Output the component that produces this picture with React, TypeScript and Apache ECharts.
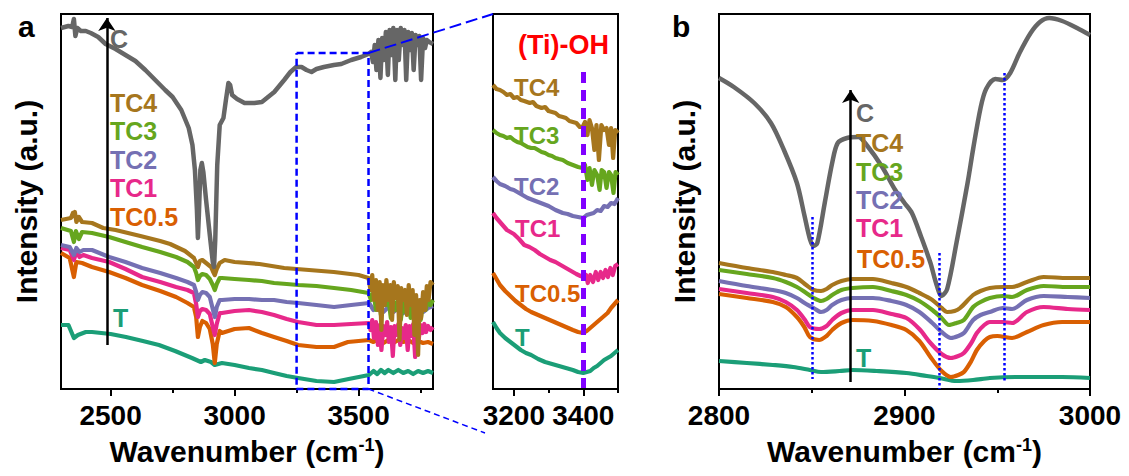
import React, { useEffect, useRef } from "react";
import * as echarts from "echarts";

const FONT = '"Liberation Sans", Arial, Helvetica, sans-serif';

const C_C = "#666666";
const C_TC4 = "#A6761D";
const C_TC3 = "#66A61E";
const C_TC2 = "#7570B3";
const C_TC1 = "#E7298A";
const C_TC05 = "#D95F02";
const C_T = "#1B9E77";

// ---------- axis ranges / ticks ----------
const A_RANGE = [2300, 3800];
const A_MAJOR = [2500, 3000, 3500];
const A_MINOR = [2750, 3250, 3750];
const I_RANGE = [3140, 3500];
const I_MAJOR = [3200, 3400];
const I_MINOR = [3300, 3500];
const B_RANGE = [2800, 3000];
const B_MAJOR = [2800, 2900, 3000];
const B_MINOR = [2850, 2950];
const Y_RANGE = [0, 375];

// ---------- panel a data (wavenumber, intensity a.u.) ----------
const aC = [[2300,361],[2330,363],[2345,362],[2352,370],[2358,353],[2366,361],[2380,358],[2400,358],[2420,356],[2450,352],[2480,345],[2520,340],[2560,334],[2600,328],[2640,319],[2680,309],[2720,299],[2750,292],[2785,279],[2815,261],[2830,244],[2840,219],[2848,179],[2852,151],[2856,174],[2862,219],[2868,226],[2874,217],[2885,189],[2900,154],[2912,127],[2917,122],[2922,149],[2930,224],[2940,264],[2955,271],[2965,289],[2975,306],[2982,304],[2990,294],[3010,290],[3040,286],[3080,286],[3110,287],[3130,291],[3160,297],[3180,303],[3200,309],[3225,317],[3248,322],[3270,322],[3290,319],[3310,317],[3330,320],[3360,322],[3400,324],[3430,325],[3470,329],[3510,332],[3540,335],[3550,337],[3558,327],[3565,344],[3572,319],[3580,349],[3588,311],[3595,351],[3602,329],[3610,357],[3618,314],[3625,359],[3632,334],[3640,361],[3648,309],[3655,359],[3662,329],[3670,361],[3678,344],[3685,359],[3692,309],[3700,357],[3708,339],[3715,356],[3722,319],[3730,354],[3738,344],[3745,353],[3752,309],[3760,351],[3768,341],[3775,349],[3785,347],[3800,345]];
const aTC4 = [[2300,169],[2340,171],[2348,176],[2352,173],[2356,177],[2362,167],[2372,172],[2385,167],[2425,166],[2470,161],[2520,159],[2620,153],[2700,148],[2740,145],[2800,138],[2836,131],[2845,126],[2852,122],[2860,128],[2870,129],[2885,126],[2905,122],[2912,118],[2920,114],[2928,120],[2940,126],[2960,129],[3000,127],[3100,125],[3200,121],[3300,119],[3400,117],[3500,114],[3540,111],[3548,99],[3555,114],[3562,89],[3570,109],[3578,79],[3585,107],[3592,59],[3598,104],[3605,84],[3612,109],[3620,89],[3628,104],[3635,69],[3642,107],[3650,91],[3658,103],[3665,49],[3672,101],[3680,89],[3688,99],[3695,74],[3702,104],[3710,84],[3718,99],[3725,54],[3732,94],[3740,34],[3746,89],[3752,71],[3760,97],[3768,79],[3775,103],[3782,89],[3790,107],[3800,104]];
const aTC3 = [[2300,161],[2340,158],[2352,147],[2360,158],[2372,150],[2385,157],[2425,156],[2494,152],[2560,147],[2627,142],[2700,137],[2764,132],[2810,127],[2836,122],[2845,116],[2852,109],[2860,113],[2870,115],[2885,114],[2900,110],[2912,104],[2920,99],[2928,105],[2940,111],[2949,111],[3000,110],[3058,109],[3110,108],[3159,106],[3210,105],[3256,104],[3330,103],[3401,101],[3470,99],[3540,96],[3550,89],[3560,97],[3570,79],[3580,94],[3590,74],[3600,92],[3610,84],[3620,91],[3630,71],[3640,89],[3650,79],[3660,89],[3670,69],[3680,87],[3690,77],[3700,89],[3710,71],[3720,86],[3730,64],[3740,84],[3750,69],[3760,87],[3770,79],[3780,89],[3790,84],[3800,89]];
const aTC2 = [[2300,144],[2335,142],[2352,134],[2362,141],[2375,137],[2390,139],[2425,139],[2494,132],[2560,127],[2627,121],[2700,116],[2764,111],[2810,107],[2836,104],[2845,97],[2852,89],[2860,94],[2870,97],[2885,96],[2900,92],[2912,80],[2920,72],[2928,82],[2940,89],[2949,89],[3000,90],[3058,90],[3110,89],[3159,89],[3210,87],[3256,86],[3330,84],[3401,82],[3470,84],[3542,86],[3560,79],[3580,83],[3600,77],[3620,82],[3640,77],[3660,81],[3680,76],[3700,80],[3720,75],[3740,79],[3760,77],[3780,81],[3800,83]];
const aTC1 = [[2300,141],[2335,139],[2352,129],[2362,137],[2375,132],[2390,134],[2425,131],[2494,127],[2560,120],[2627,112],[2700,107],[2764,102],[2810,99],[2836,96],[2845,85],[2852,72],[2860,78],[2870,80],[2885,79],[2900,75],[2912,62],[2920,54],[2928,65],[2940,76],[2949,76],[3000,78],[3058,79],[3110,77],[3159,74],[3210,70],[3256,67],[3330,64],[3401,64],[3470,65],[3542,66],[3548,59],[3555,69],[3562,51],[3570,67],[3578,44],[3585,64],[3592,39],[3600,63],[3608,54],[3615,67],[3622,47],[3630,62],[3638,33],[3645,63],[3652,54],[3660,65],[3668,44],[3675,61],[3682,51],[3690,64],[3698,39],[3705,63],[3712,53],[3720,65],[3728,32],[3735,61],[3742,49],[3750,64],[3758,56],[3765,65],[3772,57],[3780,63],[3790,59],[3800,62]];
const aTC05 = [[2300,136],[2335,131],[2352,112],[2362,127],[2385,126],[2425,122],[2494,117],[2560,111],[2627,104],[2700,98],[2764,92],[2810,86],[2836,82],[2845,72],[2852,52],[2860,62],[2870,68],[2885,66],[2900,60],[2912,45],[2920,26],[2928,45],[2940,58],[2949,56],[3000,60],[3058,61],[3110,56],[3159,52],[3210,48],[3256,44],[3330,42],[3401,42],[3457,47],[3500,48],[3542,49],[3560,47],[3580,50],[3600,46],[3620,49],[3640,46],[3660,49],[3680,47],[3700,49],[3720,46],[3740,48],[3760,46],[3780,47],[3800,45]];
const aT = [[2300,64],[2330,64],[2352,51],[2368,54],[2400,57],[2425,57],[2500,55],[2562,52],[2630,48],[2695,44],[2760,38],[2828,31],[2864,27],[2880,29],[2905,27],[2920,24],[2949,26],[3000,24],[3058,21],[3110,19],[3159,16],[3210,13],[3256,11],[3330,8],[3401,7],[3460,10],[3542,14],[3560,18],[3575,15],[3590,19],[3605,16],[3620,19],[3640,16],[3660,19],[3680,16],[3700,18],[3720,15],[3740,18],[3760,16],[3780,18],[3800,16]];

// zoom box in panel a (wavenumber range, top intensity)
const BOX_X = [3250, 3540];
const BOX_TOP = 336;

// ---------- inset data ----------
const iTC4 = [[3140,304],[3150,300],[3160,299],[3170,297],[3180,294],[3190,295],[3200,291],[3210,292],[3220,289],[3230,288],[3246,286],[3255,287],[3265,283],[3280,281],[3290,282],[3300,278],[3310,277],[3320,276],[3330,273],[3341,272],[3350,271],[3360,268],[3370,267],[3380,266],[3390,262],[3398,262],[3405,267],[3412,254],[3418,269],[3425,261],[3432,239],[3438,264],[3445,229],[3452,264],[3460,259],[3467,261],[3474,244],[3480,261],[3486,231],[3492,259],[3500,256]];
const iTC3 = [[3140,259],[3150,256],[3160,254],[3170,253],[3180,251],[3190,252],[3200,249],[3210,247],[3220,246],[3230,244],[3240,242],[3250,241],[3260,241],[3270,239],[3280,237],[3290,236],[3300,234],[3310,233],[3320,231],[3330,230],[3341,229],[3355,226],[3370,224],[3385,222],[3398,221],[3405,224],[3412,209],[3418,221],[3425,204],[3432,219],[3440,214],[3447,199],[3453,219],[3460,217],[3467,201],[3474,217],[3480,214],[3487,196],[3493,217],[3500,214]];
const iTC2 = [[3140,212],[3150,208],[3160,205],[3175,203],[3190,200],[3200,199],[3215,196],[3230,193],[3240,191],[3255,189],[3270,187],[3285,185],[3300,183],[3320,179],[3341,176],[3355,175],[3370,173],[3385,172],[3400,171],[3410,174],[3420,175],[3430,176],[3440,179],[3450,178],[3460,183],[3470,182],[3480,186],[3490,185],[3500,191]];
const iTC1 = [[3140,176],[3150,171],[3160,167],[3170,163],[3180,159],[3190,157],[3200,155],[3215,150],[3230,144],[3245,142],[3260,139],[3275,135],[3290,132],[3305,129],[3320,127],[3335,124],[3350,121],[3365,118],[3380,115],[3392,113],[3400,112],[3408,114],[3413,106],[3420,114],[3428,107],[3436,117],[3443,109],[3450,117],[3457,111],[3464,119],[3471,112],[3478,121],[3485,114],[3492,123],[3500,125]];
const iTC05 = [[3140,116],[3150,110],[3160,104],[3175,98],[3190,93],[3205,88],[3220,84],[3235,80],[3250,77],[3270,74],[3290,71],[3310,68],[3330,65],[3350,62],[3370,59],[3385,57],[3400,56],[3410,58],[3420,61],[3430,64],[3440,67],[3450,70],[3460,73],[3470,76],[3480,81],[3490,85],[3500,89]];
const iT = [[3140,67],[3150,61],[3160,56],[3175,51],[3190,47],[3205,43],[3220,39],[3235,36],[3250,34],[3270,30],[3290,27],[3310,25],[3330,23],[3350,21],[3370,19],[3385,17],[3400,16],[3410,17],[3420,18],[3430,21],[3440,23],[3450,26],[3460,29],[3470,31],[3480,33],[3490,36],[3500,39]];
const OH_LINE = [[3400, 317], [3400, 1]];

// ---------- panel b data ----------
const bC = [[2800,311],[2808,302],[2819,286],[2828,266],[2835,239],[2842,206],[2846,174],[2849,150],[2851,143],[2853,146],[2857,186],[2861,226],[2864,246],[2869,251],[2875,252],[2880,243],[2888,222],[2895,199],[2900,186],[2904,176],[2909,152],[2914,126],[2917,106],[2920,93],[2923,100],[2928,146],[2934,206],[2937,240],[2941,281],[2944,300],[2949,310],[2953,309],[2957,316],[2962,336],[2968,356],[2973,367],[2978,371],[2985,368],[2993,361],[3000,354]];
const bTC4 = [[2800,126],[2815,121],[2829,117],[2836,114],[2842,111],[2847,104],[2851,99],[2855,98],[2858,100],[2861,104],[2866,108],[2872,110],[2883,110],[2893,106],[2901,102],[2908,96],[2915,89],[2920,81],[2923,77],[2927,78],[2930,81],[2937,94],[2941,98],[2946,101],[2953,102],[2958,102],[2966,107],[2975,112],[2988,111],[3000,111]];
const bTC3 = [[2800,119],[2815,115],[2829,111],[2836,107],[2842,102],[2847,96],[2851,91],[2855,88],[2858,90],[2861,94],[2866,99],[2872,101],[2883,102],[2893,98],[2901,94],[2908,88],[2915,79],[2920,71],[2924,64],[2928,66],[2932,69],[2937,82],[2941,87],[2946,91],[2953,93],[2958,92],[2966,99],[2975,103],[2988,102],[3000,102]];
const bTC2 = [[2800,108],[2815,103],[2829,99],[2836,96],[2842,91],[2847,85],[2851,81],[2855,77],[2858,79],[2861,84],[2866,89],[2872,91],[2883,91],[2893,88],[2901,84],[2908,77],[2915,66],[2920,57],[2925,51],[2929,53],[2932,56],[2937,69],[2941,74],[2946,77],[2953,81],[2958,80],[2966,89],[2975,93],[2988,92],[3000,91]];
const bTC1 = [[2800,100],[2815,96],[2829,92],[2836,87],[2842,79],[2846,70],[2849,62],[2854,60],[2858,63],[2861,69],[2866,76],[2872,79],[2883,79],[2893,75],[2901,71],[2908,60],[2914,46],[2920,35],[2925,31],[2929,33],[2932,36],[2936,46],[2939,56],[2943,64],[2946,67],[2953,67],[2958,66],[2966,77],[2975,82],[2988,80],[3000,79]];
const bTC05 = [[2800,95],[2815,91],[2829,87],[2836,82],[2842,72],[2846,62],[2849,52],[2854,49],[2858,53],[2861,59],[2866,66],[2872,69],[2883,68],[2893,64],[2901,59],[2908,48],[2914,32],[2920,18],[2925,12],[2929,14],[2932,17],[2936,28],[2939,39],[2943,48],[2946,52],[2950,53],[2958,51],[2966,57],[2975,64],[2985,67],[3000,67]];
const bT = [[2800,28],[2815,26],[2829,24],[2840,22],[2849,19],[2855,17],[2865,18],[2872,19],[2885,18],[2901,16],[2912,13],[2919,11],[2928,8],[2937,9],[2946,11],[2960,12],[2973,12],[2985,12],[3000,11]];
const B_PEAKS = [
  [[2850, 172], [2850, 10]],
  [[2919, 136], [2919, 0]],
  [[2954, 316], [2954, 6]],
];

// arrows (x position, from, to)
const A_ARROW = [[2485, 44], [2485, 371]];
const B_ARROW = [[2871, 7], [2871, 299]];

const GRIDS = [
  { left: 61, top: 14, width: 372, height: 375 },
  { left: 493, top: 14, width: 125, height: 375 },
  { left: 719, top: 14, width: 371, height: 375 },
];

const labelText = { color: "#000", fontSize: 28, fontWeight: "bold" as const, fontFamily: FONT };

function xAxes(gridIndex: number, range: number[], major: number[], minor: number[], withName: boolean) {
  const main: any = {
    type: "value",
    gridIndex,
    min: range[0],
    max: range[1],
    position: "bottom",
    axisLine: { show: true, onZero: false, lineStyle: { color: "#000", width: 2 } },
    axisTick: { show: true, inside: false, length: 7, lineStyle: { color: "#000", width: 2 }, customValues: major },
    axisLabel: {
      ...labelText,
      margin: 12,
      customValues: major,
      showMinLabel: true,
      showMaxLabel: true,
      hideOverlap: false,
      formatter: (v: number) => String(Math.round(v)),
    },
    splitLine: { show: false },
  };
  if (withName) {
    main.name = "Wavenumber (cm{sup|-1})";
    main.nameLocation = "middle";
    main.nameGap = 47;
    main.nameTextStyle = {
      color: "#000",
      fontSize: 30,
      fontWeight: "bold",
      fontFamily: FONT,
      rich: { sup: { fontSize: 18, fontWeight: "bold", fontFamily: FONT, color: "#000", verticalAlign: "top" } },
    };
  }
  const sub = {
    type: "value",
    gridIndex,
    min: range[0],
    max: range[1],
    position: "bottom",
    axisLine: { show: false, onZero: false },
    axisTick: { show: true, inside: false, length: 4, lineStyle: { color: "#000", width: 2 }, customValues: minor },
    axisLabel: { show: false },
    splitLine: { show: false },
  };
  return [main, sub];
}

function yAxis(gridIndex: number, withName: boolean) {
  const ax: any = {
    type: "value",
    gridIndex,
    min: Y_RANGE[0],
    max: Y_RANGE[1],
    position: "left",
    axisLine: { show: true, lineStyle: { color: "#000", width: 2 } },
    axisTick: { show: false },
    axisLabel: { show: false },
    splitLine: { show: false },
  };
  if (withName) {
    ax.name = "Intensity (a.u.)";
    ax.nameLocation = "middle";
    ax.nameGap = 20;
    ax.nameTextStyle = { color: "#000", fontSize: 30, fontWeight: "bold", fontFamily: FONT };
  }
  return ax;
}

function curve(data: number[][], color: string, xi: number, yi: number, smooth: number | boolean = false, width = 4.2) {
  return {
    type: "line",
    data,
    xAxisIndex: xi,
    yAxisIndex: yi,
    symbol: "none",
    smooth,
    silent: true,
    lineStyle: { color, width, join: "round" },
    itemStyle: { color },
    z: 3,
  };
}

function segs(list: number[][][], xi: number, yi: number, style: any, arrow = false) {
  return {
    type: "lines",
    coordinateSystem: "cartesian2d",
    xAxisIndex: xi,
    yAxisIndex: yi,
    symbol: arrow ? ["none", "arrow"] : ["none", "none"],
    symbolSize: arrow ? 13 : 0,
    silent: true,
    clip: false,
    lineStyle: { opacity: 1, curveness: 0, ...style },
    data: list.map((c) => ({ coords: c })),
    z: 10,
  };
}

function txt(text: string, x: number, y: number, fill: string, size = 25) {
  return {
    type: "text",
    x,
    y,
    z: 100,
    silent: true,
    style: { text, fill, fontSize: size, fontWeight: "bold", fontFamily: FONT, align: "left", verticalAlign: "middle" },
  };
}

function buildOption(): any {
  const xa = [
    ...xAxes(0, A_RANGE, A_MAJOR, A_MINOR, true),
    ...xAxes(1, I_RANGE, I_MAJOR, I_MINOR, false),
    ...xAxes(2, B_RANGE, B_MAJOR, B_MINOR, true),
  ];
  const ya = [yAxis(0, true), yAxis(1, false), yAxis(2, true)];
  const boxData = [
    [BOX_X[0], BOX_TOP],
    [BOX_X[1], BOX_TOP],
    [BOX_X[1], 0],
    [BOX_X[0], 0],
    [BOX_X[0], BOX_TOP],
  ];
  return {
    animation: false,
    backgroundColor: "#fff",
    grid: GRIDS.map((g) => ({ ...g, show: true, borderColor: "#000", borderWidth: 2, backgroundColor: "transparent" })),
    xAxis: xa,
    yAxis: ya,
    series: [
      // panel a
      curve(aT, C_T, 0, 0),
      curve(aTC05, C_TC05, 0, 0),
      curve(aTC1, C_TC1, 0, 0),
      curve(aTC2, C_TC2, 0, 0),
      curve(aTC3, C_TC3, 0, 0),
      curve(aTC4, C_TC4, 0, 0),
      curve(aC, C_C, 0, 0, false, 4.5),
      {
        type: "line",
        data: boxData,
        xAxisIndex: 0,
        yAxisIndex: 0,
        symbol: "none",
        clip: false,
        silent: true,
        lineStyle: { color: "#0000FF", width: 2.5, type: [7, 4] },
        z: 8,
      },
      segs([A_ARROW], 0, 0, { color: "#000", width: 2.5 }, true),
      // inset
      curve(iT, C_T, 2, 1),
      curve(iTC05, C_TC05, 2, 1),
      curve(iTC1, C_TC1, 2, 1),
      curve(iTC2, C_TC2, 2, 1),
      curve(iTC3, C_TC3, 2, 1),
      curve(iTC4, C_TC4, 2, 1),
      segs([OH_LINE], 2, 1, { color: "#8000FF", width: 5, type: [11, 7] }),
      // panel b
      curve(bT, C_T, 4, 2, 0.3),
      curve(bTC05, C_TC05, 4, 2, 0.3),
      curve(bTC1, C_TC1, 4, 2, 0.3),
      curve(bTC2, C_TC2, 4, 2, 0.3),
      curve(bTC3, C_TC3, 4, 2, 0.3),
      curve(bTC4, C_TC4, 4, 2, 0.3),
      curve(bC, C_C, 4, 2, 0.3, 4.5),
      segs(B_PEAKS, 4, 2, { color: "#0000FF", width: 2.5, type: [2.5, 2.5] }),
      segs([B_ARROW], 4, 2, { color: "#000", width: 2.5 }, true),
    ],
  };
}

const LABELS_A = [
  ["TC4", 110, 103, C_TC4],
  ["TC3", 110, 131, C_TC3],
  ["TC2", 110, 160, C_TC2],
  ["TC1", 110, 188, C_TC1],
  ["TC0.5", 110, 217, C_TC05],
  ["T", 113, 318, C_T],
  ["C", 110, 39, C_C],
];
const LABELS_I = [
  ["TC4", 514, 87, C_TC4],
  ["TC3", 514, 135, C_TC3],
  ["TC2", 514, 186, C_TC2],
  ["TC1", 515, 228, C_TC1],
  ["TC0.5", 515, 293, C_TC05],
  ["T", 515, 337, C_T],
];
const LABELS_B = [
  ["C", 856, 113, C_C],
  ["TC4", 856, 143, C_TC4],
  ["TC3", 856, 172, C_TC3],
  ["TC2", 856, 200, C_TC2],
  ["TC1", 856, 228, C_TC1],
  ["TC0.5", 857, 259, C_TC05],
  ["T", 856, 358, C_T],
];

export default function App() {
  const ref = useRef<HTMLDivElement>(null);
  useEffect(() => {
    if (!ref.current) return;
    const chart = echarts.init(ref.current, null, { renderer: "svg" });
    chart.setOption(buildOption());
    const px = (xi: number, yi: number, v: number[]) =>
      chart.convertToPixel({ xAxisIndex: xi, yAxisIndex: yi } as any, v) as unknown as number[];
    const boxTR = px(0, 0, [BOX_X[1], BOX_TOP]);
    const boxBR = px(0, 0, [BOX_X[1], 0]);
    const insTL = px(2, 1, [I_RANGE[0], Y_RANGE[1]]);
    const insBL = px(2, 1, [I_RANGE[0], 0]);
    const graphic: any[] = [
      ...LABELS_A.map((l) => txt(l[0] as string, l[1] as number, l[2] as number, l[3] as string)),
      ...LABELS_I.map((l) => txt(l[0] as string, l[1] as number, l[2] as number, l[3] as string, 24)),
      ...LABELS_B.map((l) => txt(l[0] as string, l[1] as number, l[2] as number, l[3] as string)),
      txt("(Ti)-OH", 518, 45, "#FF0000", 27),
      txt("a", 18, 26, "#000", 30),
      txt("b", 672, 26, "#000", 30),
      {
        type: "line",
        z: 90,
        silent: true,
        shape: { x1: boxTR[0], y1: boxTR[1], x2: insTL[0], y2: insTL[1] },
        style: { stroke: "#0000FF", lineWidth: 2, lineDash: [12, 5] },
      },
      {
        type: "line",
        z: 90,
        silent: true,
        shape: { x1: boxBR[0], y1: boxBR[1], x2: insBL[0] - 8, y2: insBL[1] + 44 },
        style: { stroke: "#0000FF", lineWidth: 1.5, lineDash: [6, 4] },
      },
    ];
    chart.setOption({ graphic });
    return () => chart.dispose();
  }, []);
  return <div ref={ref} style={{ position: "absolute", left: 0, top: 0, width: 1129, height: 476 }} />;
}
